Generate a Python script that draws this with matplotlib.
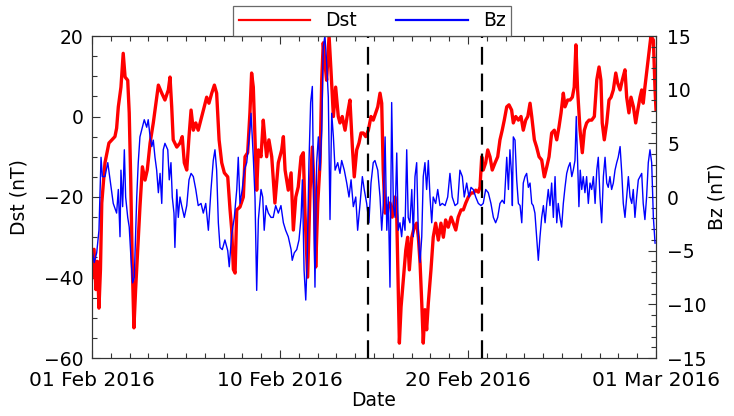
import matplotlib
matplotlib.use('Agg')
import matplotlib.pyplot as plt
from matplotlib.lines import Line2D
from matplotlib.ticker import MultipleLocator, FixedLocator

# time axis in days since 01 Feb 2016 00:00
dst_day = [
    0.00, 0.11, 0.21, 0.29, 0.37, 0.45, 0.52, 0.69, 0.90, 1.22,
    1.31, 1.40, 1.54, 1.66, 1.76, 1.90, 1.98, 2.06, 2.14, 2.23,
    2.32, 2.43, 2.55, 2.68, 2.82, 2.94, 3.09, 3.26, 3.44, 3.53,
    3.71, 3.88, 4.06, 4.15, 4.24, 4.32, 4.51, 4.68, 4.80, 4.91,
    5.04, 5.16, 5.27, 5.39, 5.52, 5.65, 5.84, 5.97, 6.10, 6.22,
    6.37, 6.51, 6.63, 6.76, 6.90, 7.04, 7.22, 7.34, 7.43, 7.52,
    7.61, 7.70, 7.87, 8.05, 8.14, 8.28, 8.40, 8.49, 8.58, 8.67,
    8.76, 8.85, 8.99, 9.11, 9.20, 9.29, 9.41, 9.56, 9.73, 9.91,
    10.09, 10.18, 10.27, 10.44, 10.59, 10.71, 10.84, 10.97, 11.12, 11.24,
    11.33, 11.47, 11.60, 11.72, 11.82, 11.90, 12.01, 12.13, 12.22, 12.30,
    12.39, 12.48, 12.61, 12.71, 12.84, 12.96, 13.10, 13.19, 13.31, 13.46,
    13.60, 13.72, 13.85, 13.95, 14.08, 14.20, 14.31, 14.43, 14.56, 14.70,
    14.84, 14.96, 15.09, 15.20, 15.32, 15.41, 15.49, 15.59, 15.73, 15.85,
    15.97, 16.12, 16.21, 16.26, 16.35, 16.44, 16.56, 16.69, 16.79, 16.88,
    17.01, 17.14, 17.27, 17.36, 17.45, 17.54, 17.62, 17.71, 17.80, 17.89,
    18.03, 18.15, 18.28, 18.42, 18.56, 18.69, 18.81, 18.95, 19.10, 19.22,
    19.35, 19.48, 19.63, 19.75, 19.88, 20.02, 20.16, 20.28, 20.41, 20.55,
    20.64, 20.73, 20.81, 20.94, 21.05, 21.17, 21.29, 21.44, 21.58, 21.70,
    21.82, 21.93, 22.06, 22.18, 22.32, 22.41, 22.54, 22.68, 22.82, 22.94,
    23.07, 23.18, 23.30, 23.39, 23.53, 23.65, 23.78, 23.92, 24.06, 24.19,
    24.31, 24.45, 24.59, 24.72, 24.84, 24.95, 25.07, 25.16, 25.30, 25.43,
    25.55, 25.65, 25.74, 25.83, 25.96, 26.08, 26.19, 26.31, 26.44, 26.58,
    26.72, 26.85, 26.97, 27.07, 27.14, 27.25, 27.38, 27.50, 27.61, 27.73,
    27.86, 27.96, 28.09, 28.21, 28.35, 28.44, 28.56, 28.67, 28.80, 28.92,
    29.03, 29.15, 29.24, 29.32, 29.41, 29.56, 29.64, 29.73, 29.86, 29.95, 30.00,
]
dst_nt = [
    -40, -33, -43, -36, -47.6, -38, -21.5, -11.5, -6.6, -5,
    -2.9, 2.4, 7.3, 15.7, 9.8, 9, 0.9, -15.8, -36.4, -52.5,
    -43, -33, -22.5, -12.5, -15.8, -13.3, -6.6, -1.6, 4.8, 7.8,
    5.8, 4.1, 6.6, 9.8, 2.4, -5.8, -7.6, -6.6, -5, -11.5,
    -13.3, -5, 1.6, -3.4, -1.6, -3.4, 0, 2.4, 4.8, 3.3,
    5.8, 7.8, 5.8, -5.8, -11.5, -14, -15, -23, -28, -38,
    -38.9, -23.2, -22.5, -20, -10, -9, 0.9, 10.8, 7.3, -5.8,
    -18.3, -8.3, -10, -0.9, -5.8, -10, -5.8, -10, -21.5, -11.5,
    -8.3, -5, -13.3, -18.3, -14, -28.2, -20, -17.5, -10, -9,
    -24, -39.9, -18.3, -7.6, -18.3, -37.4, -21.5, -11.5, 9.1, 18.3,
    13.3, 9, 20, 11.6, 0, 7.3, 0, -1.6, 0, -3.4,
    0.9, 4.1, -7.6, -15, -8.3, -6.6, -4.1, -4.1, -5, -3.4,
    0, -0.9, 0.9, 2.4, 5.8, 3.3, -13.3, -24, -22.5, -21.5,
    -25, -20, -25, -36.4, -56.3, -47.3, -40.6, -33.2, -30, -38.1,
    -30, -27.5, -26.5, -30, -36.4, -46.3, -56.3, -48, -53, -46.3,
    -38.1, -30, -26.5, -30.7, -26.5, -30, -25.7, -27.5, -25, -26.5,
    -28.2, -25, -23.2, -23.2, -21.5, -20, -19, -19, -18.3, -18.8,
    -17.5, -10, -13.3, -11.5, -8.3, -10, -13.3, -11.5, -10, -5.8,
    -3.4, -0.9, 2.4, 2.9, 1.6, -1.6, 0, -0.9, 0, -3.4,
    -0.9, 0, 3.3, 0, -5.8, -7.6, -10, -10.8, -15, -12.5,
    -10, -4.1, -3.4, -5.8, -2.6, 0.9, 5.8, 2.4, 4.1, 4.1,
    4.8, 7.3, 17.8, 6.6, -3.4, -9, -3.4, -1.6, -0.9, -0.9,
    0, 9.1, 12.3, 9, -1.6, -5.8, -1.6, 4.1, 4.8, 6.6,
    10.8, 8.3, 6.6, 9.1, 11.6, 4.8, 0.9, 4.8, 2.4, -1.6,
    1.6, 4.8, 6.6, 3.3, 7.3, 13.3, 16.6, 20, 19, 6.6, 1.6,
]

bz_day = [
    0.00, 0.12, 0.25, 0.37, 0.48, 0.55, 0.69, 0.84, 0.96, 1.13,
    1.31, 1.40, 1.49, 1.54, 1.63, 1.72, 1.79, 1.90, 1.98, 2.07,
    2.16, 2.25, 2.38, 2.46, 2.55, 2.68, 2.78, 2.91, 2.99, 3.09,
    3.18, 3.26, 3.35, 3.44, 3.53, 3.62, 3.71, 3.79, 3.88, 4.03,
    4.11, 4.20, 4.27, 4.36, 4.41, 4.51, 4.59, 4.68, 4.77, 4.91,
    5.04, 5.16, 5.27, 5.39, 5.52, 5.65, 5.80, 5.92, 6.05, 6.19,
    6.33, 6.45, 6.54, 6.63, 6.72, 6.81, 6.93, 7.07, 7.22, 7.30,
    7.43, 7.57, 7.70, 7.78, 7.87, 7.99, 8.10, 8.23, 8.35, 8.46,
    8.58, 8.67, 8.76, 8.85, 8.99, 9.08, 9.16, 9.26, 9.38, 9.52,
    9.64, 9.77, 9.91, 10.05, 10.18, 10.30, 10.44, 10.59, 10.65, 10.76,
    10.89, 11.01, 11.12, 11.19, 11.28, 11.37, 11.45, 11.54, 11.63, 11.72,
    11.79, 11.86, 11.95, 12.04, 12.13, 12.22, 12.30, 12.39, 12.48, 12.57,
    12.66, 12.75, 12.84, 12.93, 13.07, 13.19, 13.28, 13.42, 13.55, 13.67,
    13.78, 13.90, 14.03, 14.13, 14.26, 14.38, 14.48, 14.61, 14.73, 14.84,
    14.96, 15.05, 15.20, 15.32, 15.41, 15.49, 15.59, 15.68, 15.76, 15.85,
    15.94, 16.03, 16.12, 16.21, 16.29, 16.38, 16.47, 16.56, 16.65, 16.74,
    16.82, 16.91, 17.01, 17.09, 17.18, 17.27, 17.36, 17.45, 17.54, 17.62,
    17.71, 17.80, 17.89, 17.98, 18.07, 18.15, 18.28, 18.39, 18.51, 18.63,
    18.78, 18.92, 19.04, 19.16, 19.31, 19.45, 19.57, 19.70, 19.80, 19.93,
    20.05, 20.16, 20.28, 20.41, 20.55, 20.69, 20.81, 20.94, 21.08, 21.22,
    21.35, 21.47, 21.58, 21.70, 21.82, 21.93, 22.06, 22.15, 22.23, 22.32,
    22.36, 22.41, 22.50, 22.59, 22.68, 22.77, 22.86, 22.94, 23.03, 23.12,
    23.21, 23.30, 23.39, 23.47, 23.56, 23.65, 23.74, 23.83, 23.92, 24.01,
    24.10, 24.19, 24.27, 24.36, 24.45, 24.54, 24.63, 24.72, 24.80, 24.89,
    24.98, 25.07, 25.16, 25.25, 25.34, 25.43, 25.52, 25.60, 25.69, 25.76,
    25.83, 25.90, 25.97, 26.05, 26.13, 26.22, 26.31, 26.40, 26.49, 26.58,
    26.67, 26.76, 26.85, 26.93, 27.02, 27.11, 27.20, 27.29, 27.38, 27.46,
    27.55, 27.64, 27.73, 27.82, 27.91, 27.99, 28.09, 28.18, 28.26, 28.35,
    28.44, 28.53, 28.62, 28.71, 28.79, 28.88, 28.97, 29.06, 29.15, 29.24,
    29.32, 29.41, 29.50, 29.59, 29.68, 29.77, 29.86, 29.95,
]
bz_nt = [
    -4.9, -6.1, -5.2, -3.1, 3.7, 1.9, 1.9, 3.2, 1.6, -0.6,
    -1.5, 0.7, -3.7, 2.5, -0.9, 4.4, 0, -1.9, -2.8, -5.6,
    -8, -7.5, 0, 3.2, 5.6, 6.5, 7.2, 6.5, 7.2, 5.6,
    4.7, 5.3, 3.7, 2.5, 0.4, 2.2, -0.6, 4.4, 5, 4.4,
    1.6, 3.2, 0, -1.5, -4.7, 0.7, -1.9, 0, -0.8, -1.9,
    -0.8, 1.6, 2.2, 1.9, 0.7, -0.8, -0.6, -1.5, -0.6, -3.1,
    0.7, 3.4, 4.4, 2.5, -2.4, -4.7, -4.9, -4, -5, -6.5,
    -3.5, -1.9, 0.7, 3.7, -0.6, 0.7, 2.5, 3.2, 5.3, 7.8,
    3.7, 0, -8.7, -2.1, 0.7, 0, -3.1, -0.8, -1.5, -1.9,
    -1.9, -0.8, -1.5, -0.8, -2.4, -3.1, -3.7, -4.9, -5.9, -5.2,
    -4.9, -4, -1.9, 1.6, -6.8, -9.6, -5.6, 3.2, 8.8, 10.3,
    0, -8.4, 3.2, 5.6, 2.5, 6.2, 14, 15, 12.5, 9.3,
    -2.1, 7.8, 5.6, 2.5, 3.2, 2.2, 3.4, 2.5, 1.3, 0,
    1.6, -0.9, 0, -3.1, -0.6, 1.9, 0.7, -0.6, -2.4, 1.3,
    3.2, 3.4, 2.5, 0, -3.1, -0.8, 5.6, -3.1, 0, -8.4,
    8.8, -0.8, -1.9, 4.1, -3.1, -2.4, -3.7, -1.9, -3.1, 4.4,
    -1.9, -2.4, 0.7, -3.7, 1.9, 3.2, -3.7, -6.1, -3.7, 1.9,
    3.2, 0.7, 3.4, 0, -2.4, 0, -0.6, 0.7, -0.8, -0.6,
    -0.8, 0, 2.2, 0, -0.8, -0.6, 2.5, 1.9, 0, 1.3,
    0, 0.9, 0.7, 0, -0.6, -0.8, -0.6, 0.7, 0.4, -0.6,
    -1.9, -2.4, -1.9, -0.6, -0.3, -0.6, 3.7, 0.7, 4.4, 2,
    -0.8, 5.6, 5.3, 1.6, -0.6, -0.8, -2.4, 1.3, 1.9, 2.2,
    0.9, 1.3, -0.6, -0.8, -1.5, -3.7, -5.9, -3.7, -1.9, -0.8,
    -2.4, -0.6, 0.7, -0.8, 1.3, -1.9, 1.9, -2.4, -0.6, -1.9,
    -2.8, -0.6, 0.9, 2.2, 2.8, 3.2, 1.9, 2.5, 3.4, 7.5,
    3.2, -0.9, 2.5, 0.7, 1.9, 0.4, 1.9, -0.6, 1.3, 0.7,
    1.9, -0.6, 2.5, 3.7, 0, -2.4, 1.9, 3.7, 1.3, 0.9,
    1.9, 0.7, 1.3, 2.5, 3.2, 3.7, 4.7, 2.2, -0.6, -1.9,
    0, 1.9, 0, -0.6, 0.7, -1.9, 0, 1.6, 1.9, 2.2,
    -0.6, -2.1, 0, 3.2, 4.4, 3.2, -1.9, -4.3,
]

event_days = [14.66, 20.73]
tick_days = [0, 10, 20, 30]
tick_labels = ['01 Feb 2016', '10 Feb 2016', '20 Feb 2016', '01 Mar 2016']

plt.rcParams['font.family'] = ['DejaVu Sans']
plt.rcParams['font.size'] = 13.5

W, H = 734, 416
fig = plt.figure(figsize=(W / 100, H / 100), dpi=100)
ax = fig.add_axes([92 / W, 1 - 358 / H, (656 - 92) / W, (358 - 36) / H])

ax.plot(dst_day, dst_nt, color='red', lw=2.4)
ax.set_xlim(0, 30)
ax.set_ylim(-60, 20)

ax2 = ax.twinx()
ax2.plot(bz_day, bz_nt, color='blue', lw=1.0)
ax2.set_ylim(-15, 15)
for d in event_days:
    ax2.axvline(d, color='black', lw=1.6, ls=(0, (8, 4)), zorder=4)

# ticks, IDL style (inward, minor ticks everywhere)
ax.xaxis.set_major_locator(FixedLocator(tick_days))
ax.set_xticklabels(tick_labels, fontsize=14.5)
ax.xaxis.set_minor_locator(MultipleLocator(1))
ax.yaxis.set_major_locator(MultipleLocator(20))
ax.yaxis.set_minor_locator(MultipleLocator(5))
ax2.yaxis.set_major_locator(MultipleLocator(5))
ax2.yaxis.set_minor_locator(MultipleLocator(1))

ax.tick_params(axis='x', which='both', direction='in', top=True, pad=9)
ax.tick_params(axis='y', which='both', direction='in', right=False, pad=6)
ax2.tick_params(axis='y', which='both', direction='in', pad=8)
for a in (ax, ax2):
    a.tick_params(which='major', length=6, width=0.8, color='#333333')
    a.tick_params(which='minor', length=3.5, width=0.8, color='#333333')
    for s in a.spines.values():
        s.set_linewidth(0.8)
        s.set_color('#333333')

ax.set_xlabel('Date', labelpad=1)
ax.set_ylabel('Dst (nT)')
ax.yaxis.set_label_coords(-0.112, 0.5)
ax2.set_ylabel('Bz (nT)')
ax2.yaxis.set_label_coords(1.092, 0.5)

handles = [Line2D([], [], color='red', lw=1.6), Line2D([], [], color='blue', lw=1.6)]
leg = ax2.legend(handles, ['Dst', 'Bz'], loc='lower center', bbox_to_anchor=(0.497, 1.0),
                 ncol=2, frameon=True, fancybox=False, edgecolor='#444444',
                 handlelength=3.8, handletextpad=0.8, columnspacing=2.1,
                 borderpad=0.3, borderaxespad=0.0)
leg.get_frame().set_linewidth(0.9)

fig.savefig('out.png', dpi=100)
